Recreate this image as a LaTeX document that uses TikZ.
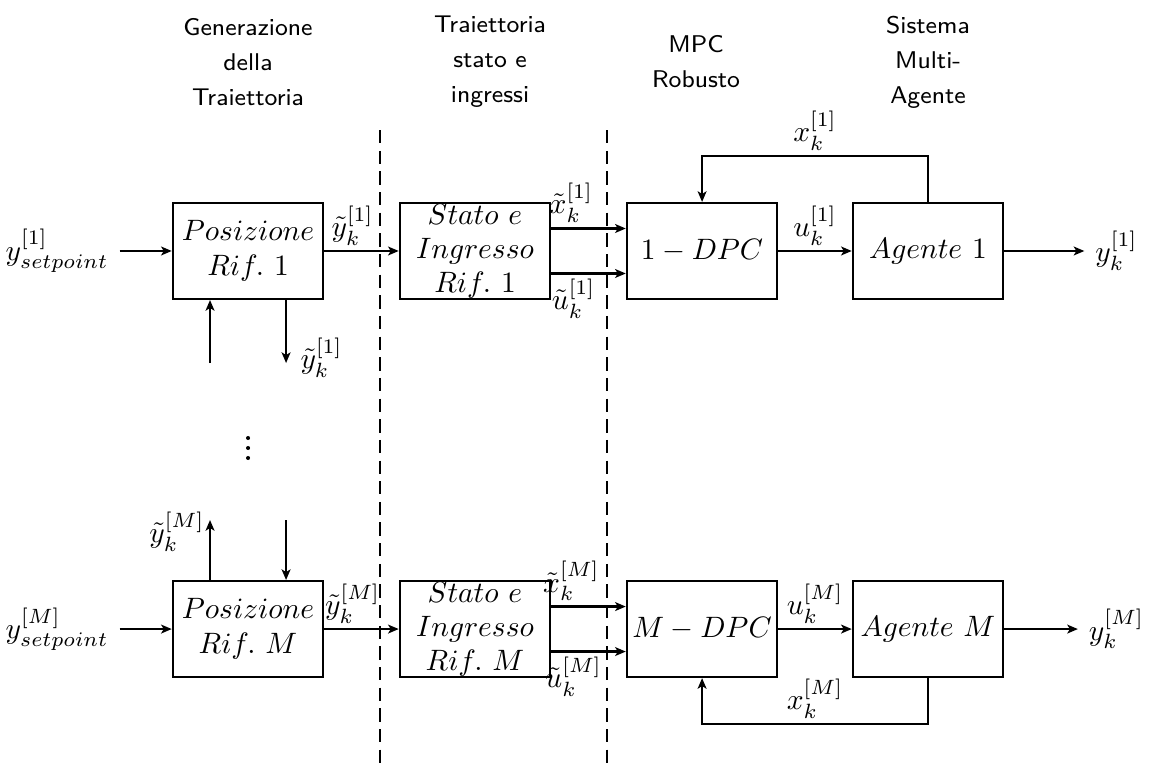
\documentclass[tikz,border=0pt]{standalone}
\usepackage{amsmath,amssymb}
\usepackage{xcolor}
\usepackage{tikz}
\usetikzlibrary{arrows.meta}
\tikzset{
block/.style = {rectangle, draw=black, thick, align=center, inner sep=1pt, minimum width = #1, minimum height = 1.14cm},
block/.default = 1.79cm, % width of the blocks
header/.style = {font=\sffamily\fontsize{8.2}{11.9}\selectfont, align=center},
lbl/.style = {inner sep=1.5pt},
arr/.style = {-{Stealth[length=3.6pt, width=3pt, inset=0.9pt]}},
}

\begin{document}
\begin{tikzpicture}[thick]
  \useasboundingbox (0,0) rectangle (13.70,-9.114);

  % Headers
    \node[header] (hGen) at (2.955,-0.739) {Generazione\\della\\Traiettoria};
    \node[header] (hTraj) at (5.838,-0.739) {Traiettoria\\stato e\\ingressi};
    \node[header] (hMpc) at (8.292,-0.739) {MPC\\Robusto};
    \node[header] (hSys) at (11.056,-0.739) {Sistema\\Multi-\\Agente};

  % Dashed separators
    \draw[dash pattern=on 4.5pt off 2.5pt] (4.527,-1.55) -- (4.527,-9.114);
    \draw[dash pattern=on 4.5pt off 2.5pt] (7.232,-1.55) -- (7.232,-9.114);

  % Boxes (agent 1)
    \node[block] (posBox1) at (2.955,-2.990) {$Posizione$\\$Rif.\ 1$};
    \node[block, inner sep=0pt, font=\fontsize{10}{11.5}\selectfont] (statoBox1) at (5.659,-2.990) {$Stato\ e$\\$Ingresso$\\$Rif.\ 1$};
    \node[block] (dpcBox1) at (8.364,-2.990) {$1-DPC$};
    \node[block] (agBox1) at (11.056,-2.990) {$Agente\ 1$};

  % Boxes (agent M)
    \node[block] (posBoxM) at (2.955,-7.494) {$Posizione$\\$Rif.\ M$};
    \node[block, inner sep=0pt, font=\fontsize{10}{11.5}\selectfont] (statoBoxM) at (5.659,-7.494) {$Stato\ e$\\$Ingresso$\\$Rif.\ M$};
    \node[block] (dpcBoxM) at (8.364,-7.494) {$M-DPC$};
    \node[block] (agBoxM) at (11.056,-7.494) {$Agente\ M$};

  % Nodes
    \node (ySet1) at (0.68,-2.990) {$y^{[1]}_{setpoint}$};
    \node (ySetM) at (0.68,-7.494) {$y^{[M]}_{setpoint}$};
    \node (yOut1) at (13.30,-2.990) {$y^{[1]}_k$};
    \node (yOutM) at (13.30,-7.494) {$y^{[M]}_k$};
    \coordinate (inPos1) at (2.502,-4.325);
    \coordinate (outPos1) at (3.408,-4.325);
    \coordinate (outPosM) at (2.502,-6.195);
    \coordinate (inPosM) at (3.408,-6.195);

  % Dots between the agents
    \coordinate (dots) at (2.955,-5.337);
    \fill (dots) ++(0,0.119) circle (0.024);
    \fill (dots) circle (0.024);
    \fill (dots) ++(0,-0.119) circle (0.024);

  % Lines (agent 1)
    \draw[arr] (ySet1) -- (posBox1);
    \draw[arr] (posBox1) -- node[lbl, pos=0.38, above] {$\tilde{y}^{[1]}_k$} (statoBox1);
    \draw[arr] ([yshift=0.268cm]statoBox1.east) -- node[lbl, pos=0.27, above] {$\tilde{x}^{[1]}_k$} ([yshift=0.268cm]dpcBox1.west);
    \draw[arr] ([yshift=-0.268cm]statoBox1.east) -- node[lbl, pos=0.3, below] {$\tilde{u}^{[1]}_k$} ([yshift=-0.268cm]dpcBox1.west);
    \draw[arr] (dpcBox1) -- node[lbl, above] {$u^{[1]}_k$} (agBox1);
    \draw[arr] (agBox1) -- (yOut1);
    \draw[arr] (agBox1.north) -- ++(0,0.548) -| node[lbl, pos=0.25, above] {$x^{[1]}_k$} (dpcBox1.north);
    \draw[arr] (inPos1) -- (inPos1 |- posBox1.south);
    \draw[arr] (outPos1 |- posBox1.south) -- (outPos1) node[lbl, right=3pt, yshift=1.7pt] {$\tilde{y}^{[1]}_k$};

  % Lines (agent M)
    \draw[arr] (ySetM) -- (posBoxM);
    \draw[arr] (posBoxM) -- node[lbl, pos=0.38, above] {$\tilde{y}^{[M]}_k$} (statoBoxM);
    \draw[arr] ([yshift=0.268cm]statoBoxM.east) -- node[lbl, pos=0.27, above] {$\tilde{x}^{[M]}_k$} ([yshift=0.268cm]dpcBoxM.west);
    \draw[arr] ([yshift=-0.268cm]statoBoxM.east) -- node[lbl, pos=0.3, below] {$\tilde{u}^{[M]}_k$} ([yshift=-0.268cm]dpcBoxM.west);
    \draw[arr] (dpcBoxM) -- node[lbl, above] {$u^{[M]}_k$} (agBoxM);
    \draw[arr] (agBoxM) -- (yOutM);
    \draw[arr] (agBoxM.south) -- ++(0,-0.548) -| node[lbl, pos=0.25, above] {$x^{[M]}_k$} (dpcBoxM.south);
    \draw[arr] (outPosM |- posBoxM.north) -- (outPosM) node[lbl, left, yshift=-4pt] {$\tilde{y}^{[M]}_k$};
    \draw[arr] (inPosM) -- (inPosM |- posBoxM.north);
\end{tikzpicture}
\end{document}
